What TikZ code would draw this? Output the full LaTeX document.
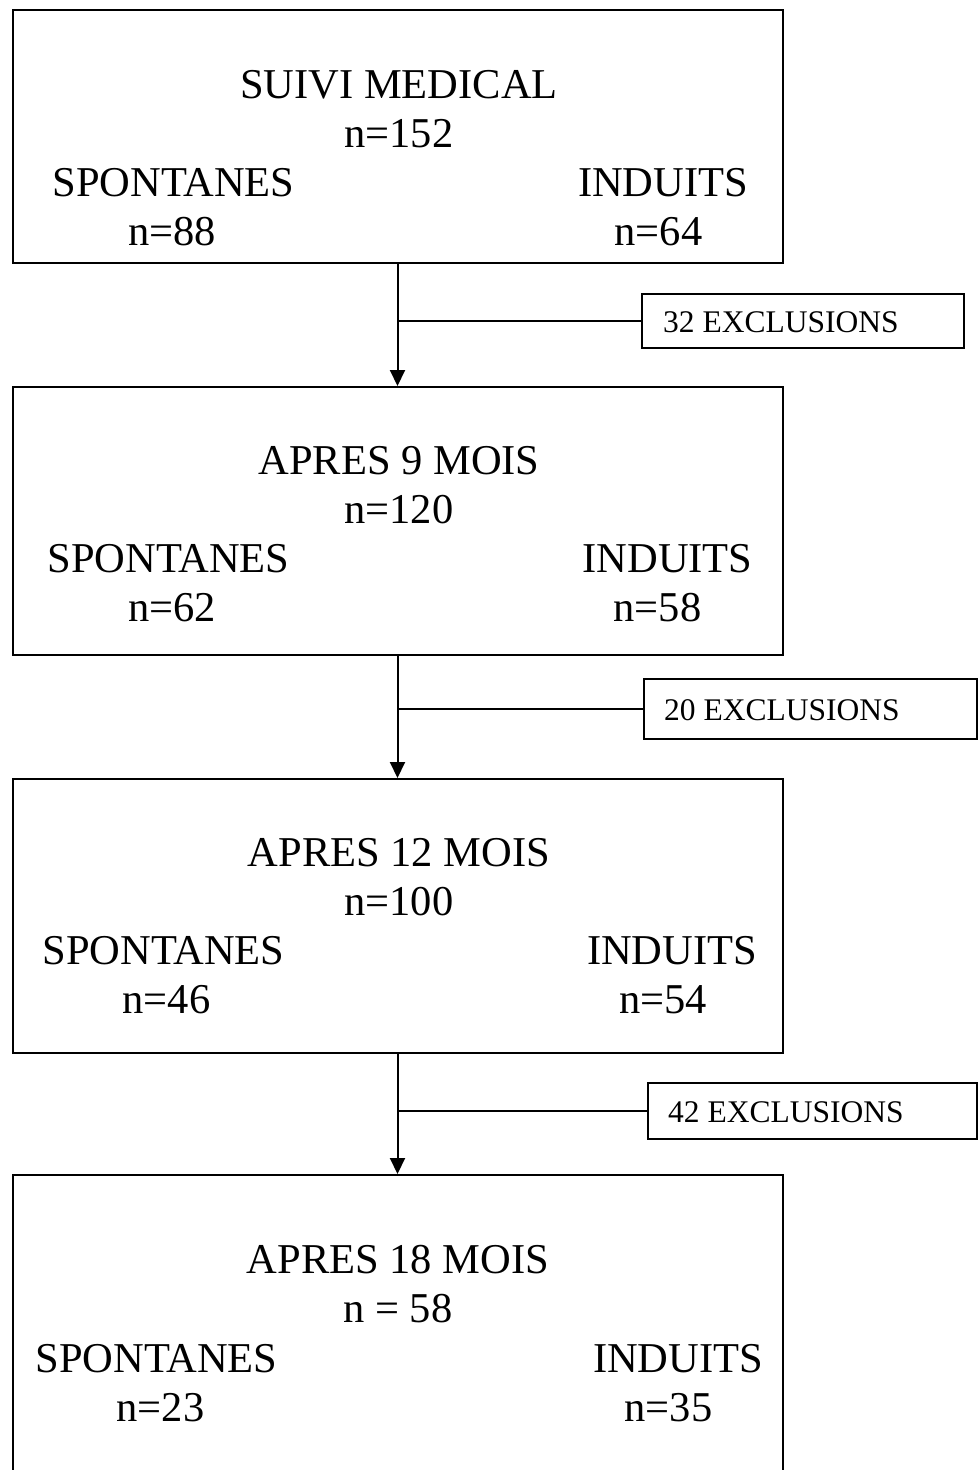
\documentclass[tikz,border=0pt]{standalone}
\usepackage{fontspec}
\setmainfont{Liberation Serif}
\usetikzlibrary{arrows.meta}
\tikzset{
  bigbox/.style={draw, line width=2pt, minimum width=770pt, inner sep=0pt},
  exbox/.style={draw, line width=1.8pt, inner sep=0pt},
  bigtxt/.style={anchor=base, inner sep=0pt, font=\fontsize{42.5}{49}\selectfont},
  extxt/.style={anchor=base west, inner sep=0pt, font=\fontsize{31.5}{36}\selectfont},
  flow/.style={line width=2pt, -{Triangle[length=16pt,width=15pt]}},
  branch/.style={line width=1.8pt}
}
\begin{document}
\begin{tikzpicture}[x=1pt,y=-1pt]
\useasboundingbox (0,0) rectangle (980,1470);
\clip (0,0) rectangle (980,1470);
\fill[white] (0,0) rectangle (980,1470);
% main boxes
\node[bigbox, minimum height=253pt] (b1) at (397.5,136.5) {};
\node[bigbox, minimum height=268pt] (b2) at (397.5,521) {};
\node[bigbox, minimum height=274pt] (b3) at (397.5,916) {};
\node[bigbox, minimum height=315pt] (b4) at (397.5,1332.5) {};
% exclusion boxes
\node[exbox, minimum width=322pt, minimum height=54pt] (e1) at (803,321) {};
\node[exbox, minimum width=333pt, minimum height=60pt] (e2) at (810.5,709) {};
\node[exbox, minimum width=329pt, minimum height=56pt] (e3) at (812.5,1111) {};
% texts box 1
\node[bigtxt] (t1a) at (399,98) {SUIVI MEDICAL};
\node[bigtxt] (t1b) at (399,147) {n=152};
\node[bigtxt] (t1c) at (173.5,196) {SPONTANES};
\node[bigtxt] (t1d) at (663,196) {INDUITS};
\node[bigtxt] (t1e) at (172,245) {n=88};
\node[bigtxt] (t1f) at (658.5,245) {n=64};
% texts box 2
\node[bigtxt] (t2a) at (399,474.5) {APRES 9 MOIS};
\node[bigtxt] (t2b) at (399,523) {n=120};
\node[bigtxt] (t2c) at (168.5,572) {SPONTANES};
\node[bigtxt] (t2d) at (667.5,572) {INDUITS};
\node[bigtxt] (t2e) at (172,621.5) {n=62};
\node[bigtxt] (t2f) at (657.5,621.5) {n=58};
% texts box 3
\node[bigtxt] (t3a) at (399,866.5) {APRES 12 MOIS};
\node[bigtxt] (t3b) at (399,915.5) {n=100};
\node[bigtxt] (t3c) at (163.5,964.5) {SPONTANES};
\node[bigtxt] (t3d) at (672,964.5) {INDUITS};
\node[bigtxt] (t3e) at (166.5,1013.5) {n=46};
\node[bigtxt] (t3f) at (663,1013.5) {n=54};
% texts box 4
\node[bigtxt] (t4a) at (398,1273.5) {APRES 18 MOIS};
\node[bigtxt] (t4b) at (398,1322.5) {n = 58};
\node[bigtxt] (t4c) at (156.5,1372) {SPONTANES};
\node[bigtxt] (t4d) at (678,1372) {INDUITS};
\node[bigtxt] (t4e) at (160.5,1421) {n=23};
\node[bigtxt] (t4f) at (668.5,1421) {n=35};
% exclusion texts
\node[extxt] (x1) at (663,332.5) {32 EXCLUSIONS};
\node[extxt] (x2) at (664,720.5) {20 EXCLUSIONS};
\node[extxt] (x3) at (668,1122.5) {42 EXCLUSIONS};
% connectors
\draw[flow] (b1.south) -- (b2.north);
\draw[flow] (b2.south) -- (b3.north);
\draw[flow] (b3.south) -- (b4.north);
\draw[branch] (e1.west) -- (e1.west -| b1.south);
\draw[branch] (e2.west) -- (e2.west -| b2.south);
\draw[branch] (e3.west) -- (e3.west -| b3.south);
\end{tikzpicture}
\end{document}
